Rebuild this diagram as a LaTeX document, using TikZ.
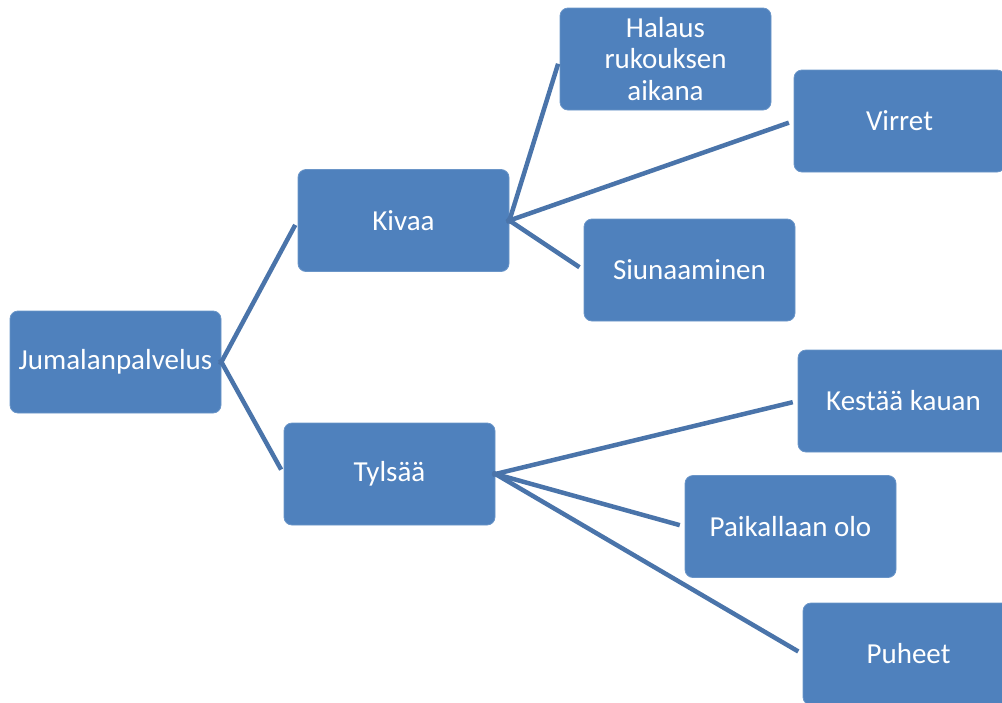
\documentclass[tikz,border=0pt]{standalone}
\usepackage{fontspec}
\setmainfont{Carlito}
\definecolor{boxblue}{HTML}{4F81BD}
\definecolor{boxedge}{HTML}{6A95C8}
\definecolor{linkblue}{HTML}{4A74AA}
\begin{document}
\begin{tikzpicture}[x=1pt,y=-1pt,
  card/.style={draw=boxedge,line width=0.8pt,fill=boxblue,rounded corners=8pt,
    minimum width=211pt,minimum height=102pt,inner sep=2pt,text=white,
    align=center,font=\fontsize{29}{31.5}\selectfont},
  conn/.style={draw=linkblue,line width=4.5pt,shorten <=-3pt,shorten >=5pt}]
\useasboundingbox (0,0) rectangle (1002,702);
\clip (0,0) rectangle (1002,702);
\node[card] (j) at (115.5,362) {Jumalanpalvelus};
\node[card] (k) at (403.5,220.5) {Kivaa};
\node[card] (t) at (389.5,474) {Tylsää};
\node[card] (h) at (665.5,59) {Halaus\\rukouksen\\aikana};
\node[card] (v) at (899.5,121) {Virret};
\node[card] (s) at (689.5,270) {Siunaaminen};
\node[card] (ke) at (903.5,401) {Kestää kauan};
\node[card] (p) at (790.5,526.5) {Paikallaan olo};
\node[card] (pu) at (908.5,654) {Puheet};
\draw[conn] (j.east) -- (k.west);
\draw[conn] (j.east) -- (t.west);
\draw[conn] (k.east) -- (h.west);
\draw[conn] (k.east) -- (v.west);
\draw[conn] (k.east) -- (s.west);
\draw[conn] (t.east) -- (ke.west);
\draw[conn] (t.east) -- (p.west);
\draw[conn] (t.east) -- (pu.west);
\end{tikzpicture}
\end{document}
